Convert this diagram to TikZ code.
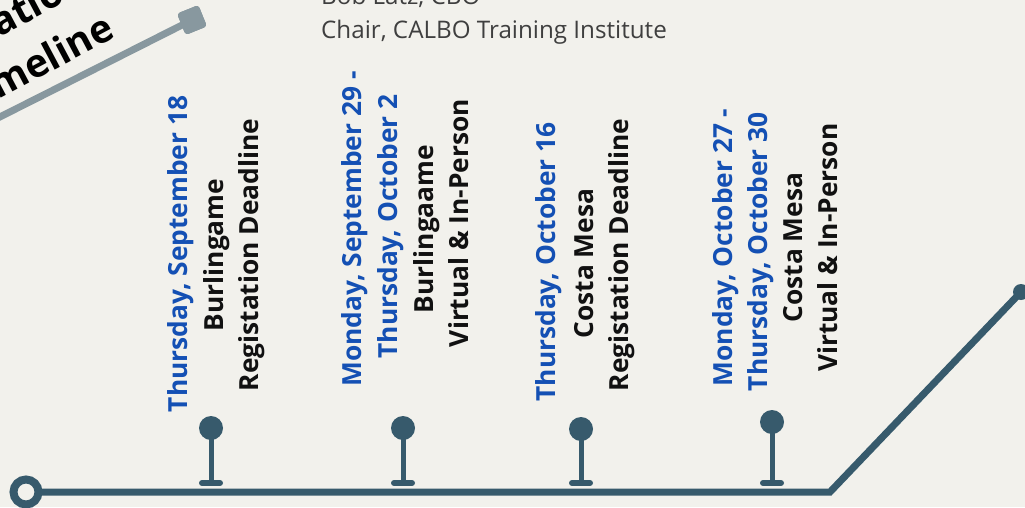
\documentclass[tikz,border=0pt]{standalone}
\usepackage{fontspec}
\setmainfont{Open Sans}
\definecolor{bg}{HTML}{F2F1EC}
\definecolor{pin}{HTML}{375A6C}
\definecolor{greyline}{HTML}{88989F}
\definecolor{dateblue}{HTML}{1450B4}
\definecolor{ink}{HTML}{111111}
\definecolor{subgrey}{HTML}{3F3F3F}
\begin{document}
\begin{tikzpicture}[x=1pt,y=-1pt,
  datetxt/.style={rotate=90, anchor=base, text=dateblue, inner sep=0pt, font=\bfseries\fontsize{26.3}{30}\selectfont},
  evtxt/.style={datetxt, text=ink},
  titletxt/.style={rotate=28, inner sep=0pt, text=black, font=\bfseries\fontsize{39}{44}\selectfont},
  subtxt/.style={anchor=base west, inner sep=0pt, text=subgrey, font=\fontsize{24.2}{28}\selectfont},
  pinhead/.style={circle, fill=pin, minimum size=24pt, inner sep=0pt},
  stemline/.style={draw=pin, line width=5pt},
  pinbase/.style={draw=pin, line width=6pt, line cap=round},
  mainline/.style={draw=pin, line width=7pt},
  greysq/.style={fill=greyline, rounded corners=3pt, minimum size=23pt, inner sep=0pt, rotate=22},
]
\fill[bg] (0,0) rectangle (1025,507);
\useasboundingbox (0,0) rectangle (1025,507);
\clip (0,0) rectangle (1025,507);

% grey title line
\coordinate (gstart) at (-20,127);
\node[greysq] (sq) at (192,20) {};
\draw[greyline, line width=7pt] (gstart) -- (sq.center);
\node[greysq] (sq2) at (192,20) {};

% title
\node[titletxt, anchor=base west] (t1) at (-121,101) {Registration};
\node[titletxt, anchor=base east] (t2) at (117,37) {Timeline};

% top text
\node[subtxt] (name) at (321,4) {Bob Latz, CBO};
\node[subtxt] (chair) at (321,38) {Chair, CALBO Training Institute};

% main line
\coordinate (bend) at (830,492);
\node[circle, fill=pin, minimum size=16pt, inner sep=0pt] (end) at (1021,292) {};
\node[circle, minimum size=25pt, inner sep=0pt] (start) at (26,492) {};
\draw[mainline] (start.east) -- (bend) -- (end.center);
\node[circle, draw=pin, line width=8pt, fill=bg, minimum size=25pt, inner sep=0pt] (ring) at (26,492) {};

% pins
\foreach \n/\x/\y in {1/211/428, 2/403/428, 3/581/429, 4/772/422} {
  \node[pinhead] (p\n) at (\x,\y) {};
  \coordinate (b\n) at (\x,483);
  \draw[stemline] (p\n.center) -- (b\n);
  \draw[pinbase] ([xshift=-9pt]b\n) -- ([xshift=9pt]b\n);
}

% column 1
\node[datetxt] (c1a) at (187,254) {Thursday, September 18};
\node[evtxt] (c1b) at (223,255) {Burlingame};
\node[evtxt] (c1c) at (258,255) {Registation Deadline};
% column 2
\node[datetxt] (c2a) at (361,229) {Monday, September 29 -};
\node[datetxt] (c2b) at (397,226.5) {Thursday, October 2};
\node[evtxt] (c2c) at (433,229) {Burlingaame};
\node[evtxt] (c2d) at (468,223) {Virtual \& In-Person};
% column 3
\node[datetxt] (c3a) at (555,262) {Thursday, October 16};
\node[evtxt] (c3b) at (593,263.5) {Costa Mesa};
\node[evtxt] (c3c) at (628,255) {Registation Deadline};
% column 4
\node[datetxt] (c4a) at (732,247.5) {Monday, October 27 -};
\node[datetxt] (c4b) at (767,251.7) {Thursday, October 30};
\node[evtxt] (c4c) at (802,247.7) {Costa Mesa};
\node[evtxt] (c4d) at (837,247.7) {Virtual \& In-Person};
\end{tikzpicture}
\end{document}
